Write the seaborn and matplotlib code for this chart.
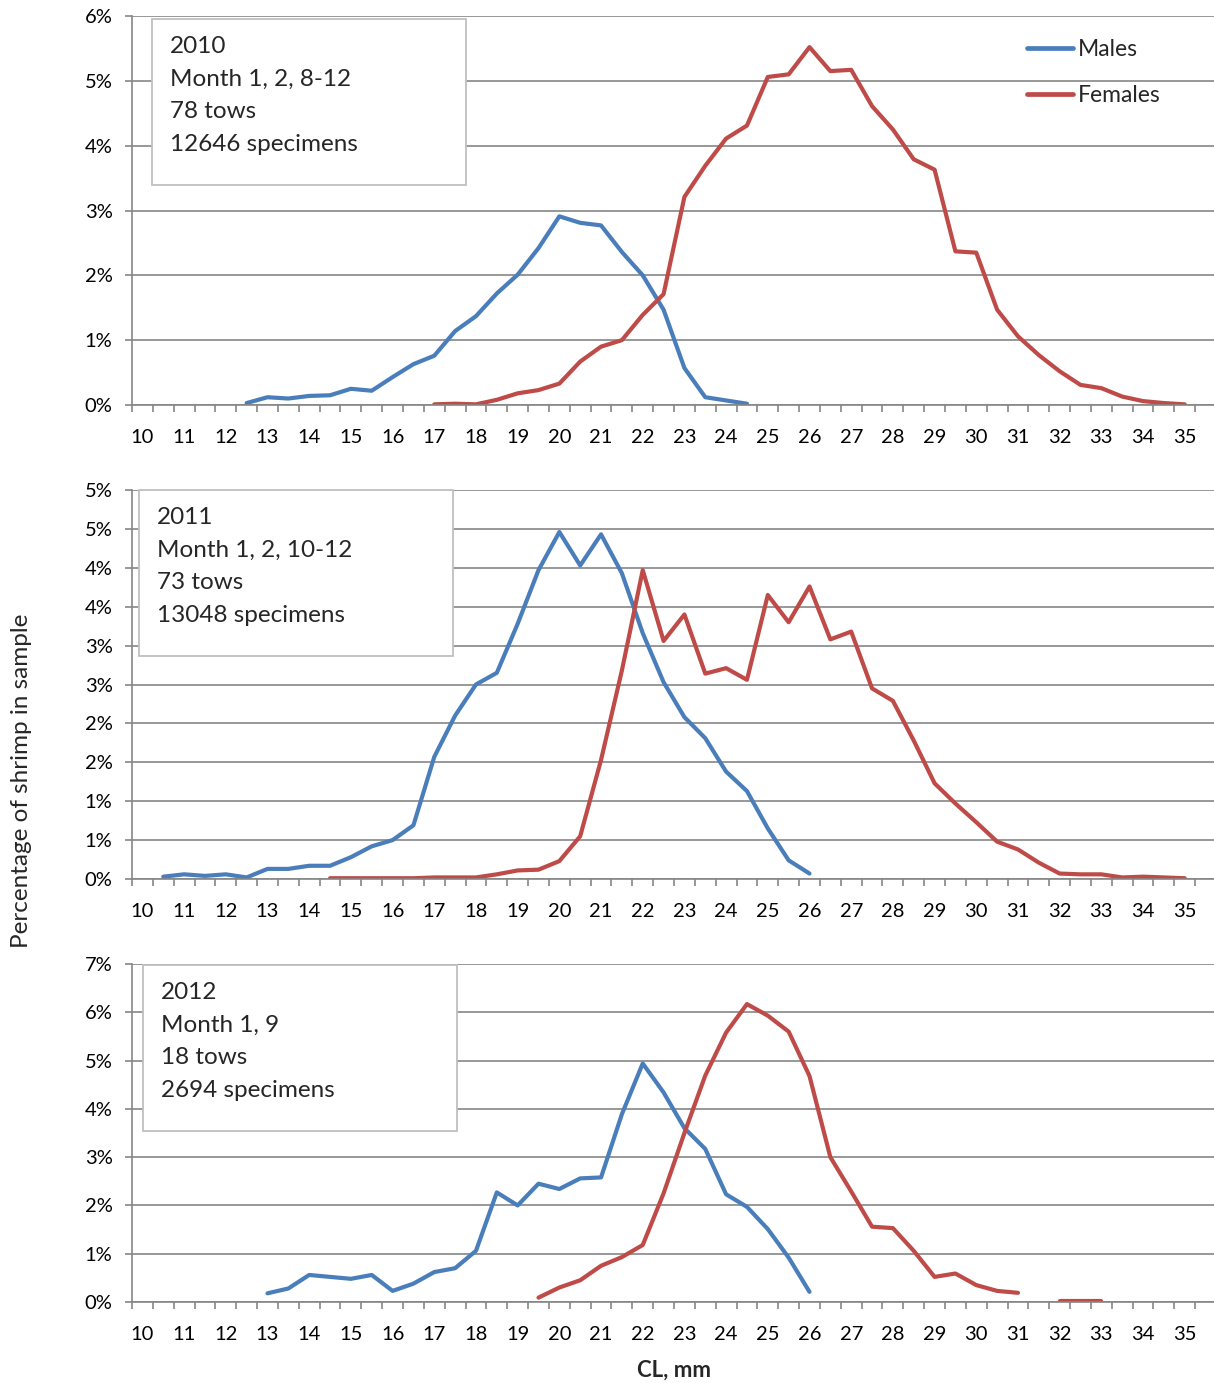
import matplotlib
matplotlib.use("Agg")
import matplotlib.pyplot as plt
from matplotlib.patches import Rectangle
from matplotlib.lines import Line2D
from matplotlib.ticker import FixedLocator
import numpy as np
import pandas as pd
import seaborn as sns

# length classes (CL, mm) -- each series starts at its own class
males_2010_start = 12.5
males_2010 = [0.03, 0.12, 0.10, 0.14, 0.15, 0.25, 0.22, 0.43, 0.63, 0.76, 1.14, 1.37, 1.72,
              2.01, 2.42, 2.91, 2.81, 2.77, 2.36, 2.00, 1.47, 0.57, 0.12, 0.07, 0.02]
females_2010_start = 17.0
females_2010 = [0.01, 0.02, 0.01, 0.08, 0.18, 0.23, 0.33, 0.67, 0.90, 1.00, 1.39, 1.71,
                3.21, 3.69, 4.11, 4.31, 5.06, 5.10, 5.52, 5.15, 5.17, 4.61, 4.25, 3.79, 3.63,
                2.37, 2.35, 1.47, 1.06, 0.77, 0.52, 0.31, 0.26, 0.13, 0.06, 0.03, 0.01]

males_2011_start = 10.5
males_2011 = [0.03, 0.06, 0.04, 0.06, 0.02, 0.13, 0.13, 0.17, 0.17, 0.28, 0.42, 0.50, 0.69,
              1.57, 2.10, 2.50, 2.65, 3.28, 3.97, 4.46, 4.03, 4.43, 3.93, 3.16,
              2.53, 2.08, 1.81, 1.38, 1.13, 0.65, 0.24, 0.07]
females_2011_start = 14.5
females_2011 = [0.01, 0.01, 0.01, 0.01, 0.01, 0.02, 0.02, 0.02, 0.06, 0.11, 0.12, 0.23, 0.55,
                1.53, 2.68, 3.97, 3.06, 3.40, 2.64, 2.71, 2.56, 3.65, 3.30, 3.76, 3.08, 3.18,
                2.45, 2.29, 1.78, 1.23, 0.97, 0.73, 0.48, 0.38, 0.21, 0.07, 0.06, 0.06, 0.02,
                0.03, 0.02, 0.01]

males_2012_start = 13.0
males_2012 = [0.18, 0.28, 0.56, 0.52, 0.48, 0.56, 0.23, 0.38, 0.62, 0.70, 1.06, 2.27, 2.00,
              2.45, 2.34, 2.56, 2.58, 3.89, 4.94, 4.34, 3.60, 3.17, 2.23, 1.97, 1.51, 0.92, 0.21]
females_2012_start = 19.5
females_2012 = [0.09, 0.30, 0.45, 0.75, 0.93, 1.18, 2.25, 3.50, 4.69, 5.58, 6.17, 5.93, 5.60,
                4.68, 3.00, 2.29, 1.56, 1.53, 1.06, 0.52, 0.59, 0.35, 0.23, 0.19, np.nan,
                0.03, 0.03, 0.03]

panel_text = [
    "2010\nMonth 1, 2, 8-12\n78 tows\n12646 specimens",
    "2011\nMonth 1, 2, 10-12\n73 tows\n13048 specimens",
    "2012\nMonth 1, 9\n18 tows\n2694 specimens",
]
x_labels = [str(v) for v in range(10, 36)]
y_ticks = [
    [0, 1, 2, 3, 4, 5, 6],
    [0, 0.5, 1, 1.5, 2, 2.5, 3, 3.5, 4, 4.5, 5],
    [0, 1, 2, 3, 4, 5, 6, 7],
]
# excel rounds the half-percent gridlines up
y_labels = [
    ["0%", "1%", "2%", "3%", "4%", "5%", "6%"],
    ["0%", "1%", "1%", "2%", "2%", "3%", "3%", "4%", "4%", "5%", "5%"],
    ["0%", "1%", "2%", "3%", "4%", "5%", "6%", "7%"],
]

BLUE = "#4a7ebb"
RED = "#be4b48"
GRID = "#868686"


def to_frame(values, start, sex):
    df = pd.DataFrame({"pct": values})
    df["cl"] = start + 0.5 * np.arange(len(values))
    df["sex"] = sex
    # break the line where a class has no data
    df["seg"] = sex + df["pct"].isna().cumsum().astype(str)
    return df.dropna()


panels = [
    (males_2010, males_2010_start, females_2010, females_2010_start),
    (males_2011, males_2011_start, females_2011, females_2011_start),
    (males_2012, males_2012_start, females_2012, females_2012_start),
]

sns.set_theme(style="white")
plt.rcParams["font.family"] = ["Lato", "DejaVu Sans"]

W, H = 1214, 1383
fig = plt.figure(figsize=(W / 100, H / 100), dpi=100)

# pixel rows of each plot area (top, bottom)
rows = [(16, 405), (490, 879), (964, 1302)]
boxes = [(152, 19), (139, 490), (143, 965)]
x_left, x_right = 132, 1216

for i, (m, ms, f, fs) in enumerate(panels):
    top, bot = rows[i]
    ax = fig.add_axes([x_left / W, 1 - bot / H, (x_right - x_left) / W, (bot - top) / H])
    df = pd.concat([to_frame(m, ms, "Males"), to_frame(f, fs, "Females")])
    sns.lineplot(data=df, x="cl", y="pct", hue="sex", units="seg", estimator=None,
                 palette={"Males": BLUE, "Females": RED}, linewidth=3.0, legend=False, ax=ax,
                 solid_capstyle="round", solid_joinstyle="round")

    ax.set_xlim(9.75, 35.75)
    ax.set_ylim(0, y_ticks[i][-1])
    ax.set_xticks(np.arange(10, 36))
    ax.set_xticklabels(x_labels)
    ax.xaxis.set_minor_locator(FixedLocator(np.arange(9.75, 36, 0.5)))
    ax.set_yticks(y_ticks[i])
    ax.set_yticklabels(y_labels[i])
    ax.tick_params(axis="x", which="major", length=0, pad=17, labelsize=14.5, colors="black")
    ax.tick_params(axis="x", which="minor", length=5, width=1.2, color=GRID, direction="out",
                   bottom=True)
    ax.tick_params(axis="y", length=5, width=1.2, color=GRID, pad=9, labelsize=14.5,
                   left=True, labelcolor="black")
    ax.grid(axis="y", color=GRID, lw=1.2)
    ax.set_axisbelow(True)
    for s in ["top", "right"]:
        ax.spines[s].set_visible(False)
    for s in ["left", "bottom"]:
        ax.spines[s].set_color(GRID)
        ax.spines[s].set_linewidth(1.2)
    ax.set_xlabel("")
    ax.set_ylabel("")

    # info box
    bx, by = boxes[i]
    x0 = (bx - x_left) / (x_right - x_left)
    y1 = 1 - (by - top) / (bot - top)
    bw = 314 / (x_right - x_left)
    bh = 166 / (bot - top)
    ax.add_patch(Rectangle((x0, y1 - bh), bw, bh, transform=ax.transAxes, facecolor="white",
                           edgecolor="#bfbfbf", lw=1.3, zorder=5, clip_on=False))
    ax.text(x0 + 18 / (x_right - x_left), y1 - 17 / (bot - top), panel_text[i],
            transform=ax.transAxes, ha="left", va="top", fontsize=17.5, linespacing=1.68,
            zorder=6)

    if i == 0:
        handles = [Line2D([], [], color=BLUE, lw=3.4, solid_capstyle="round"),
                   Line2D([], [], color=RED, lw=3.4, solid_capstyle="round")]
        ax.legend(handles, ["Males", "Females"], loc="upper left", frameon=False,
                  bbox_to_anchor=((1027 - x_left) / (x_right - x_left), 1 - 23.5 / (bot - top)),
                  borderaxespad=0, borderpad=0, handlelength=2.0, handletextpad=0.22,
                  labelspacing=1.08, fontsize=16.5)

fig.text(22 / W, 1 - 781 / H, "Percentage of shrimp in sample", rotation=90,
         ha="center", va="center", fontsize=17.5)
fig.text(674 / W, 1 - 1370 / H, "CL, mm", ha="center", va="center", fontsize=16,
         fontweight="bold")

fig.savefig("out.png", dpi=100)
